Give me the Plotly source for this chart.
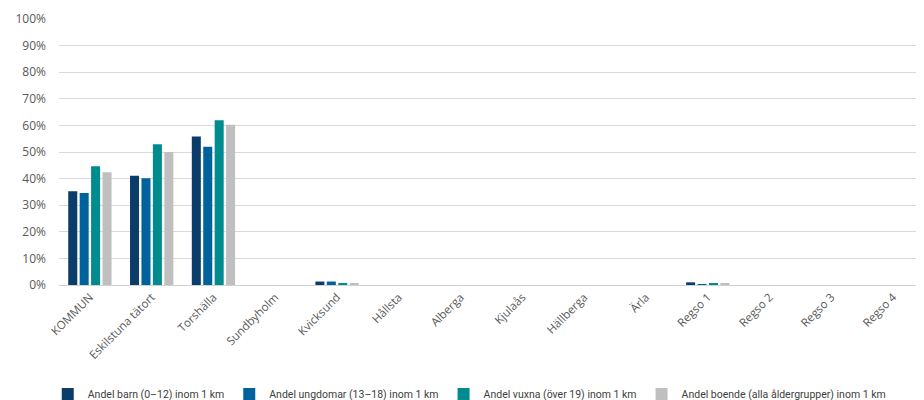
import plotly.graph_objects as go

categories = ["KOMMUN", "Eskilstuna tätort", "Torshälla", "Sundbyholm", "Kvicksund",
              "Hållsta", "Alberga", "Kjulaås", "Hällberga", "Ärla",
              "Regso 1", "Regso 2", "Regso 3", "Regso 4"]

barn = [35.2, 41.1, 55.8, 0, 1.3, 0, 0, 0, 0, 0, 1.0, 0, 0, 0]
ungdomar = [34.6, 40.1, 52.0, 0, 1.3, 0, 0, 0, 0, 0, 0.3, 0, 0, 0]
vuxna = [44.6, 52.9, 61.9, 0, 0.4, 0, 0, 0, 0, 0, 0.6, 0, 0, 0]
boende = [42.4, 50.0, 60.2, 0, 0.4, 0, 0, 0, 0, 0, 0.5, 0, 0, 0]

series_names = ["Andel barn (0–12) inom 1 km", "Andel ungdomar (13–18) inom 1 km",
                "Andel vuxna (över 19) inom 1 km", "Andel boende (alla åldergrupper) inom 1 km"]
colors = ["#0b3d6b", "#00629c", "#008b8f", "#bfbfbf"]

fig = go.Figure()
for name, vals, c in zip(series_names, [barn, ungdomar, vuxna, boende], colors):
    fig.add_trace(go.Bar(x=categories, y=[v / 100 for v in vals], name=name,
                         marker=dict(color=c, line=dict(width=0))))

fig.update_layout(
    width=916, height=392,
    margin=dict(l=51, r=0, t=11, b=115, autoexpand=False),
    plot_bgcolor="white", paper_bgcolor="white",
    barmode="group", bargap=0.26, bargroupgap=0.21,
    font=dict(family="Open Sans", size=11, color="#595959"),
    legend=dict(orientation="h", x=-0.013, xanchor="left",
                y=-0.41, yanchor="middle",
                font=dict(family="Roboto", size=10.5, color="#404040"),
                itemwidth=30, traceorder="normal", tracegroupgap=0),
    showlegend=True,
)
fig.update_yaxes(range=[0, 1], tickformat=".0%", dtick=0.1, gridcolor="#d9d9d9",
                 gridwidth=1, zeroline=True, zerolinecolor="#d0d0d0", zerolinewidth=1,
                 tickfont=dict(size=12, color="#595959"), ticks="", showline=False,
                 ticklabelstandoff=12)
fig.update_xaxes(tickangle=-45, tickfont=dict(size=11.5, color="#595959"),
                 showline=True, linecolor="#d0d0d0", ticks="")

fig.write_html("out.html")
